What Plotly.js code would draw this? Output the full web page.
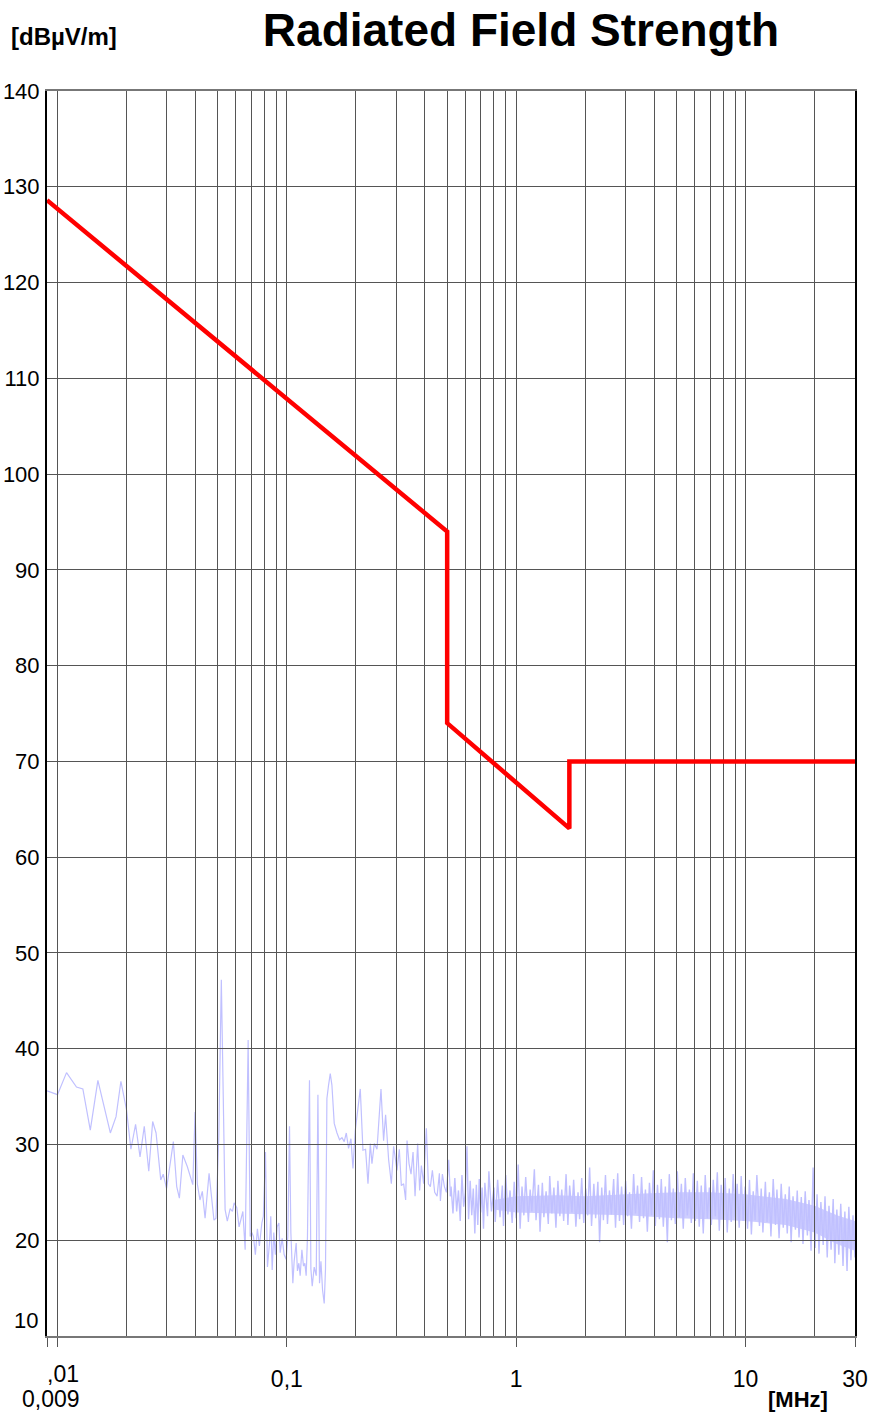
<!DOCTYPE html>
<html>
<head>
<meta charset="utf-8">
<script src="https://cdn.plot.ly/plotly-3.0.1.min.js"></script>
<style>html,body{margin:0;padding:0;background:#fff;}#chart{width:869px;height:1413px;}</style>
</head>
<body>
<div id="chart"></div>
<script>
// Limit line (red)
const limitF = [0.009, 0.5, 0.5, 1.705, 1.705, 30];
const limitV = [128.6, 94, 74, 63, 70, 70];

const sparseF = [0.009,0.01,0.01095,0.0121,0.0129,0.0139,0.015,0.0161,0.017,0.018,0.0189,0.02,0.0209,0.0219,0.0229,0.0239,0.025,0.026,0.0269,0.0282,0.0289,0.0299,0.032,0.0331,0.034,
0.0352,0.0368,0.0389,0.0398,0.0407,0.0418,0.0428,0.044,0.0458,0.047,0.0481,0.0491,0.0505,0.0518,0.0529,0.0538,0.055,0.0566,0.0579,0.0589,0.0605,0.0619,0.0643,0.0658,0.0678,0.0692,0.0703,0.0715,0.0729,0.0744,0.0759,0.0778,0.079,0.0807,0.0823,0.084,0.0851,0.0863,0.0877,0.0891,0.0907,0.0923,0.0935,0.0954,0.0973,0.0993,0.101,0.1027,0.1041,0.1062,0.1076,0.1098,0.1112,0.1128,0.1143,0.1163,0.1182,0.1198,0.1214,0.123,0.1255,0.1273,0.129,0.1316,0.1343,0.1366,0.1388,0.1408,0.1431,0.1455,0.1474,0.1495,0.152,0.1546,0.1572,0.1609,0.1654,0.1697,0.1739,0.1779,0.1816,0.1858,
0.1903,0.1942,0.1988,0.209,0.2147,0.2204,0.2258,0.2311,0.235,0.2406,0.2472,0.2573,0.2641,0.2695,0.2778,0.2855,0.2921,0.3022,0.3093,0.3156,0.323,0.3296,0.3342,0.341,0.3479,0.355,0.3622,0.3718,0.3793,0.3859,0.3949,0.4058,0.414,0.4225,0.431,0.4411,0.4519,0.4624,0.4671,0.4766,0.4863,0.4961,0.5078,0.5165];
const sparseV = [35.6,35.2,37.5,36.0,35.8,31.5,36.7,33.4,31.2,32.9,36.6,33.6,29.5,32.1,28.7,31.9,27.2,32.4,31.2,26.3,26.9,25.4,30.3,25.6,24.4,
28.9,27.7,25.8,33.4,25.9,24.2,25.1,22.3,27.0,24.5,22.1,22.3,30.8,47.2,30.8,23.2,22.0,23.3,23.0,23.9,23.4,21.4,23.0,19.0,40.9,20.4,20.8,20.4,18.5,21.2,19.4,21.8,22.5,29.2,17.2,19.7,22.5,16.9,20.8,18.5,21.4,21.8,18.7,20.2,18.5,18.0,20.4,31.9,20.8,15.5,17.8,19.7,16.8,17.6,16.3,19.0,17.3,17.6,16.3,20.4,36.7,17.0,15.2,17.2,16.3,35.2,15.5,17.8,14.8,13.4,17.0,34.8,36.2,37.4,36.2,32.2,31.2,30.5,30.7,30.3,31.2,29.6,
30.6,27.5,31.5,35.8,29.4,29.5,25.9,30.1,28.0,30.1,29.5,35.8,30.4,33.1,28.4,25.9,29.8,27.3,29.5,25.7,25.9,24.2,30.4,28.0,26.9,29.2,24.6,30.1,25.2,27.8,25.9,31.7,25.9,25.6,27.3,25.0,24.6,27.0,24.1,26.9,25.6,25.0,28.4,24.6];

const denseF = [0.52,0.53,0.54,0.55,0.56,0.57,0.58,0.59,0.6,0.61,
0.62,0.63,0.64,0.65,0.66,0.67,0.68,0.69,0.7,0.71,
0.72,0.73,0.75,0.76,0.78,0.8,0.81,0.83,0.85,0.87,
0.88,0.9,0.92,0.94,0.96,0.98,1.0,1.02,1.04,1.06,
1.08,1.1,1.13,1.15,1.17,1.2,1.22,1.25,1.27,1.3,
1.32,1.35,1.38,1.4,1.43,1.46,1.49,1.52,1.55,1.58,
1.61,1.65,1.68,1.71,1.75,1.78,1.82,1.86,1.89,1.93,
1.97,2.01,2.05,2.09,2.13,2.18,2.22,2.27,2.31,2.36,
2.4,2.45,2.5,2.55,2.6,2.66,2.71,2.77,2.82,2.88,
2.94,3.0,3.06,3.12,3.18,3.25,3.31,3.38,3.45,3.52,
3.59,3.66,3.73,3.81,3.89,3.96,4.04,4.13,4.21,4.29,
4.38,4.47,4.56,4.65,4.75,4.84,4.94,5.04,5.14,5.25,
5.35,5.46,5.57,5.69,5.8,5.92,6.04,6.16,6.28,6.41,
6.54,6.67,6.81,6.95,7.09,7.23,7.38,7.53,7.68,7.83,
7.99,8.15,8.32,8.49,8.66,8.83,9.01,9.19,9.38,9.57,
9.76,9.96,10.2,10.4,10.6,10.8,11.0,11.2,11.5,11.7,
11.9,12.2,12.4,12.7,12.9,13.2,13.5,13.7,14.0,14.3,
14.6,14.9,15.2,15.5,15.8,16.1,16.5,16.8,17.1,17.5,
17.8,18.2,18.6,18.9,19.3,19.7,20.1,20.5,20.9,21.3,
21.8,22.2,22.7,23.1,23.6,24.1,24.5,25.0,25.5,26.0,
26.6,27.1,27.7,28.2,28.8,29.4,30.0];
const denseV = [25.6,22.8,26.5,23.0,25.2,22.0,26.8,23.5,25.0,29.8,
22.2,26.2,22.6,25.4,20.7,25.8,21.6,26.4,22.9,25.5,
21.2,26.0,22.5,27.2,23.0,25.5,21.9,26.3,22.4,25.7,
21.5,26.8,22.7,25.2,21.8,26.1,22.3,27.9,21.2,25.6,
22.6,26.6,21.9,25.3,23.0,27.4,22.1,25.8,20.9,26.0,
22.4,25.1,21.7,26.7,22.8,25.5,21.3,26.2,22.5,25.3,
22.0,26.9,21.6,25.7,22.9,26.3,21.4,25.0,22.2,26.5,
21.8,25.4,22.6,27.6,21.5,25.9,22.3,26.1,19.8,25.5,
22.1,26.8,21.7,25.2,22.7,26.4,21.3,27.0,22.0,25.6,
21.6,26.2,22.5,25.0,21.2,26.9,22.8,25.7,21.9,26.6,
22.3,25.3,20.9,26.0,22.6,27.3,21.5,25.8,22.2,26.4,
21.4,25.6,19.8,26.9,22.1,25.4,21.7,27.2,22.4,25.9,
21.2,26.5,22.6,25.3,21.8,27.0,22.0,26.2,21.4,25.7,
20.7,26.8,22.3,25.5,21.6,26.3,22.5,27.1,21.0,25.8,
22.2,26.5,20.8,25.4,21.9,26.9,22.4,25.9,21.3,26.7,
22.0,25.6,21.2,26.3,20.6,25.1,22.1,26.8,21.5,25.4,
20.8,26.1,21.9,25.0,20.4,26.4,21.6,25.3,20.2,25.9,
21.3,24.8,20.7,25.6,19.8,24.6,21.1,25.2,20.3,24.5,
19.6,25.1,20.5,24.2,18.9,27.6,19.2,24.8,18.6,24.0,
19.5,24.6,18.2,23.6,19.0,24.3,17.6,23.2,18.5,23.8,
17.3,23.0,16.8,23.5,17.9,22.6,18.2];

// Solid core of the dense noise band (upper / lower edge)
const bandF  = [0.8, 1.0, 1.5, 2.0, 3.0, 4.0, 5.0, 7.0, 10, 15, 20, 25, 30];
const bandHi = [24.2, 24.6, 24.7, 24.6, 24.8, 24.9, 25.0, 25.0, 24.8, 24.3, 23.6, 22.6, 22.0];
const bandLo = [23.2, 22.9, 22.8, 22.7, 22.6, 22.4, 22.3, 22.2, 22.0, 21.6, 20.8, 19.6, 18.9];

// Axis ticks
const xMajorVals = [0.009, 0.01, 0.1, 1, 10, 30];
const xMajorText = ['', '', '0,1', '1', '10', '30'];
const xMinorVals = [0.02,0.03,0.04,0.05,0.06,0.07,0.08,0.09,0.2,0.3,0.4,0.5,0.6,0.7,0.8,0.9,2,3,4,5,6,7,8,9,20];
const yVals = [20,30,40,50,60,70,80,90,100,110,120,130,140];
const yText = yVals.map(String);

const FONT = 'Liberation Sans, Arial, Helvetica, sans-serif';
const NOISE = 'rgb(192,192,255)';

const traces = [
  {x: bandF.concat(bandF.slice().reverse()), y: bandHi.concat(bandLo.slice().reverse()),
   xaxis:'x', yaxis:'y', mode:'lines', fill:'toself', fillcolor:'rgb(205,205,255)',
   line:{width:0, color:NOISE}, hoverinfo:'skip'},
  {x: sparseF, y: sparseV, xaxis:'x', yaxis:'y', mode:'lines', line:{color:NOISE, width:1.2}},
  {x: [sparseF[sparseF.length-1]].concat(denseF), y: [sparseV[sparseV.length-1]].concat(denseV),
   xaxis:'x', yaxis:'y', mode:'lines', line:{color:NOISE, width:1.4}},
  {x: limitF, y: limitV, xaxis:'x2', yaxis:'y2', mode:'lines', line:{color:'#ff0000', width:4.5}}
];

const xr = [Math.log10(0.009), Math.log10(30)];
const layout = {
  width: 869, height: 1413,
  margin: {l:47, r:14, t:91, b:77},
  paper_bgcolor: '#ffffff', plot_bgcolor: 'rgba(0,0,0,0)',
  showlegend: false,
  font: {family: FONT, color: '#000'},
  title: {text: '<b>Radiated Field Strength</b>', font: {family: FONT, size: 46, color: '#000'},
          xref: 'container', x: 521/869, xanchor: 'center', yref: 'container', y: 1 - 30/1413, yanchor: 'middle'},
  xaxis: {type:'log', range: xr, domain:[0,1], anchor:'y', visible:false},
  yaxis: {range:[10,140], domain:[0,1], anchor:'x', visible:false},
  xaxis2: {type:'log', range: xr, domain:[0,1], anchor:'y2',
    tickmode:'array', tickvals: xMajorVals, ticktext: xMajorText,
    ticks:'outside', ticklen:9, tickwidth:1, tickcolor:'#555',
    showgrid:true, gridcolor:'#555', gridwidth:1,
    minor: {tickmode:'array', tickvals: xMinorVals, showgrid:true, gridcolor:'#555', gridwidth:1, ticks:''},
    showline:true, linecolor:'#777', linewidth:2, mirror:true, zeroline:false,
    tickfont:{family: FONT, size:23, color:'#000'}, ticklabelstandoff: 12},
  yaxis2: {range:[10,140], domain:[0,1], anchor:'x2',
    tickmode:'array', tickvals: yVals, ticktext: yText, ticks:'',
    showgrid:true, gridcolor:'#555', gridwidth:1,
    showline:true, linecolor:'#000', linewidth:2, mirror:true, zeroline:false,
    tickfont:{family: FONT, size:22, color:'#000'}, ticklabelstandoff: 1},
  annotations: [
    {text:'<b>[dBµV/m]</b>', xref:'paper', yref:'paper', x:(9-47)/808, y:(1336-37)/1245, xanchor:'left', yanchor:'middle', showarrow:false, font:{family:FONT, size:24, color:'#000'}},
    {text:'<b>[MHz]</b>', xref:'paper', yref:'paper', x:(798-47)/808, y:(1336-1399)/1245, xanchor:'center', yanchor:'middle', showarrow:false, font:{family:FONT, size:22, color:'#000'}},
    {text:',01', xref:'paper', yref:'paper', x:(81-47)/808, y:(1336-1374)/1245, xanchor:'right', yanchor:'middle', showarrow:false, font:{family:FONT, size:23, color:'#000'}},
    {text:'0,009', xref:'paper', yref:'paper', x:(51-47)/808, y:(1336-1399)/1245, xanchor:'center', yanchor:'middle', showarrow:false, font:{family:FONT, size:23, color:'#000'}},
    {text:'10', xref:'paper', yref:'paper', x:(40-47)/808, y:(1336-1320)/1245, xanchor:'right', yanchor:'middle', showarrow:false, font:{family:FONT, size:22, color:'#000'}}
  ]
};

Plotly.newPlot('chart', traces, layout, {staticPlot:true, displayModeBar:false});
</script>
</body>
</html>
